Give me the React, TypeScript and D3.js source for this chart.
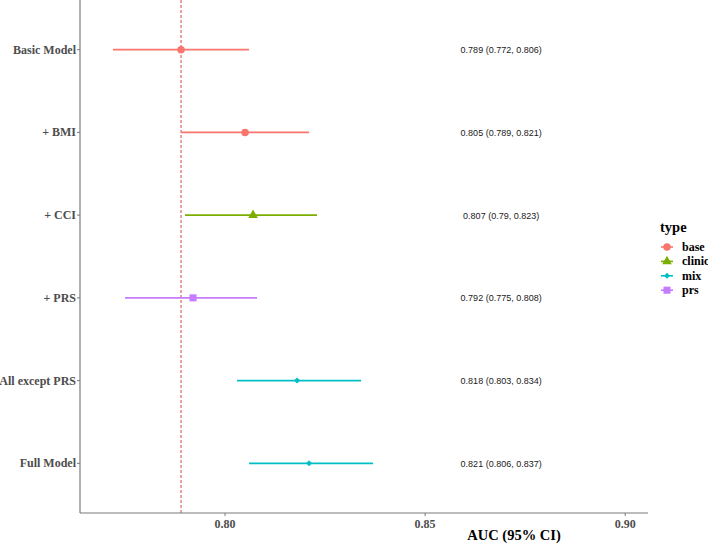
import * as d3 from "d3";
import React from "react";

// forest plot data
const models = ["Basic Model", "+ BMI", "+ CCI", "+ PRS", "All except PRS", "Full Model"];
const modelTypes = ["base", "base", "clinic", "prs", "mix", "mix"];
const auc = [0.789, 0.805, 0.807, 0.792, 0.818, 0.821];
const lower = [0.772, 0.789, 0.79, 0.775, 0.803, 0.806];
const upper = [0.806, 0.821, 0.823, 0.808, 0.834, 0.837];
const ciLabels = [
  "0.789 (0.772, 0.806)",
  "0.805 (0.789, 0.821)",
  "0.807 (0.79, 0.823)",
  "0.792 (0.775, 0.808)",
  "0.818 (0.803, 0.834)",
  "0.821 (0.806, 0.837)",
];
const xTicks = [0.8, 0.85, 0.9];
const refValue = 0.789;
const labelX = 0.869;

const typeLevels = ["base", "clinic", "mix", "prs"];
const typeColors = ["#F8766D", "#7CAE00", "#00BFC4", "#C77CFF"];

const W = 708;
const H = 545;
const plot = { left: 80, right: 648, top: 0, bottom: 513 };

const x = d3.scaleLinear().domain([0.76375, 0.9057]).range([plot.left, plot.right]);
const y = d3.scalePoint<string>().domain(models).range([plot.top, plot.bottom]).padding(0.6);
const color = d3.scaleOrdinal<string, string>().domain(typeLevels).range(typeColors);

const serif = "'Liberation Serif', 'Times New Roman', serif";
const sans = "'Liberation Sans', Arial, sans-serif";

function Marker({ type, cx, cy }: { type: string; cx: number; cy: number }) {
  const fill = color(type);
  if (type === "base") {
    return <path d={d3.symbol(d3.symbolCircle, 44)()!} transform={`translate(${cx},${cy})`} fill={fill} />;
  }
  if (type === "clinic") {
    return <path d={d3.symbol(d3.symbolTriangle, 40)()!} transform={`translate(${cx},${cy})`} fill={fill} />;
  }
  if (type === "mix") {
    return (
      <path d={d3.symbol(d3.symbolSquare, 18)()!} transform={`translate(${cx},${cy}) rotate(45)`} fill={fill} />
    );
  }
  return <path d={d3.symbol(d3.symbolSquare, 50)()!} transform={`translate(${cx},${cy})`} fill={fill} />;
}

export default function App() {
  return (
    <svg width={W} height={H} style={{ position: "absolute", left: 0, top: 0, background: "#fff" }}>
      {/* reference line */}
      <line
        x1={x(refValue)}
        x2={x(refValue)}
        y1={plot.top}
        y2={plot.bottom}
        stroke="#d64545"
        strokeWidth={1}
        strokeDasharray="3,2"
      />

      {/* CI bars and points */}
      {models.map((m, i) => (
        <g key={m}>
          <line
            x1={x(lower[i])}
            x2={x(upper[i])}
            y1={y(m)}
            y2={y(m)}
            stroke={color(modelTypes[i])}
            strokeWidth={1.6}
          />
          <Marker type={modelTypes[i]} cx={x(auc[i])} cy={y(m)!} />
          <text
            x={x(labelX)}
            y={y(m)! + 3.5}
            textAnchor="middle"
            fontFamily={sans}
            fontSize={9}
            fill="#1a1a1a"
          >
            {ciLabels[i]}
          </text>
        </g>
      ))}

      {/* y axis */}
      <line x1={plot.left} x2={plot.left} y1={plot.top} y2={plot.bottom} stroke="#7a7a7a" strokeWidth={1.2} />
      {models.map((m) => (
        <g key={"yt" + m}>
          <line x1={plot.left - 3} x2={plot.left} y1={y(m)} y2={y(m)} stroke="#7a7a7a" strokeWidth={1} />
          <text
            x={plot.left - 4}
            y={y(m)! + 4}
            textAnchor="end"
            fontFamily={serif}
            fontWeight="bold"
            fontSize={12}
            fill="#4d4d4d"
          >
            {m}
          </text>
        </g>
      ))}

      {/* x axis */}
      <line x1={plot.left} x2={plot.right} y1={plot.bottom} y2={plot.bottom} stroke="#7a7a7a" strokeWidth={1.2} />
      {xTicks.map((t) => (
        <g key={"xt" + t}>
          <line x1={x(t)} x2={x(t)} y1={plot.bottom} y2={plot.bottom + 3} stroke="#7a7a7a" strokeWidth={1} />
          <text
            x={x(t)}
            y={plot.bottom + 15}
            textAnchor="middle"
            fontFamily={serif}
            fontWeight="bold"
            fontSize={12}
            fill="#4d4d4d"
          >
            {d3.format(".2f")(t)}
          </text>
        </g>
      ))}
      <text x={514} y={540} textAnchor="middle" fontFamily={serif} fontWeight="bold" fontSize={14.5} fill="#000">
        AUC (95% CI)
      </text>

      {/* legend */}
      <text x={660} y={232} fontFamily={serif} fontWeight="bold" fontSize={14.5} fill="#000">
        type
      </text>
      {typeLevels.map((t, i) => {
        const ly = 247 + i * 14.4;
        return (
          <g key={"lg" + t}>
            <line x1={661} x2={673} y1={ly} y2={ly} stroke={color(t)} strokeWidth={1.6} />
            <Marker type={t} cx={667} cy={ly} />
            <text x={682} y={ly + 4} fontFamily={serif} fontWeight="bold" fontSize={12} fill="#000">
              {t}
            </text>
          </g>
        );
      })}
    </svg>
  );
}
